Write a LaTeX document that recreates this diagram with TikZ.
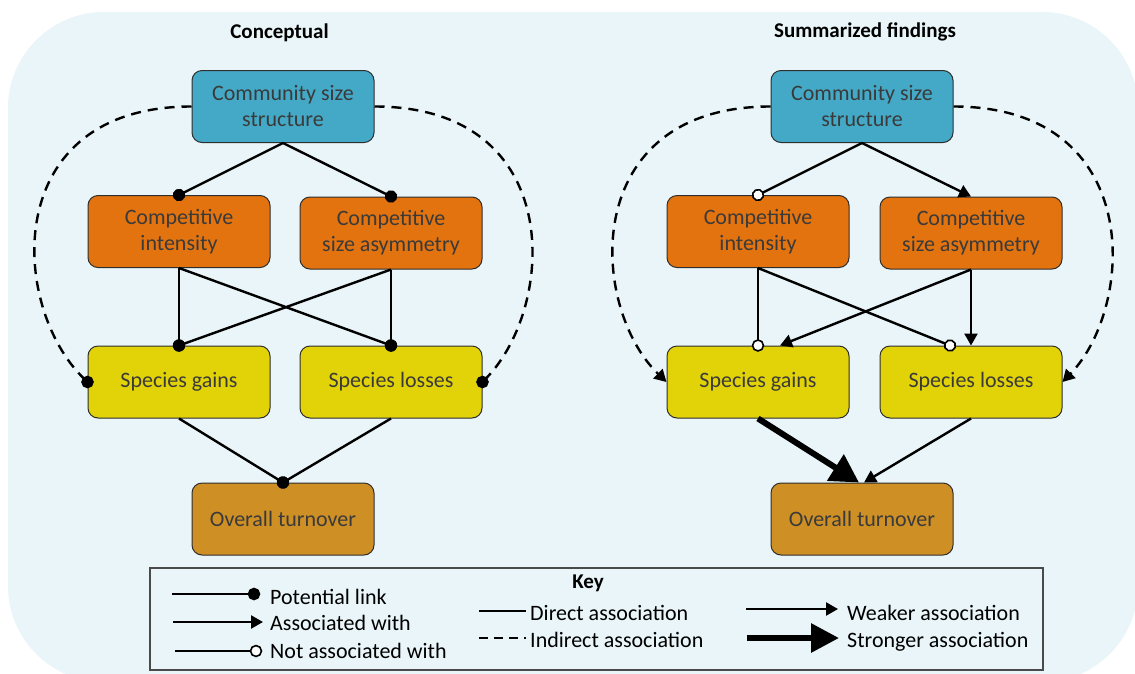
\documentclass[tikz,border=0pt]{standalone}
\usepackage{fontspec}
\setmainfont{Carlito}
\usetikzlibrary{arrows.meta,calc}
\definecolor{bgc}{HTML}{E9F5F8}
\definecolor{cblue}{HTML}{44A9C7}
\definecolor{corange}{HTML}{E3730F}
\definecolor{cyellow}{HTML}{E2D308}
\definecolor{cbrown}{HTML}{CE8F25}
\definecolor{boxline}{HTML}{2E2E2E}
\definecolor{boxtext}{HTML}{3A3A3A}
\definecolor{keyline}{HTML}{4A4A4A}
\begin{document}
\begin{tikzpicture}[x=1pt,y=-1pt,
  box/.style={draw=boxline, line width=1pt, rounded corners=10pt, minimum width=182pt, minimum height=72pt, align=center, text=boxtext, font=\fontsize{22}{26}\selectfont, inner sep=0pt},
  title/.style={font=\bfseries\fontsize{21}{24}\selectfont, anchor=base},
  keytext/.style={font=\fontsize{22}{26}\selectfont, anchor=base west, inner sep=0pt},
  link/.style={line width=2.4pt},
  pdot/.style={-{Circle[length=12.5pt]}, shorten >=-6.25pt},
  odot/.style={-{Circle[open,fill=white,length=12.5pt,line width=1.6pt]}, shorten >=-6.25pt},
  arr/.style={-{Triangle[length=12pt,width=13pt]}},
  strong/.style={line width=6pt, -{Triangle[length=28pt,width=30pt]}},
  indirect/.style={line width=2.4pt, dash pattern=on 10pt off 7pt},
  keybox/.style={draw=keyline, line width=1.2pt, minimum width=893pt, minimum height=102pt, inner sep=0pt}
]
\useasboundingbox (0,0) rectangle (1135,673);
\begin{scope}
  \clip (0,0) rectangle (1135,673);
  \fill[bgc, rounded corners=96pt] (8,12) rectangle (1138,682);
\end{scope}

% titles
\node[title] (t1) at (279.5,38) {Conceptual};
\node[title] (t2) at (865,37) {Summarized findings};

% ---------------- left panel ----------------
\node[box, fill=cblue]   (cs1) at (283,106.5) {Community size\\structure};
\node[box, fill=corange] (ci1) at (179,231.5) {Competitive\\intensity};
\node[box, fill=corange] (ca1) at (391,233)   {Competitive\\size asymmetry};
\node[box, fill=cyellow] (sg1) at (179,382)   {Species gains};
\node[box, fill=cyellow] (sl1) at (391,382)   {Species losses};
\node[box, fill=cbrown]  (ot1) at (283,519)   {Overall turnover};

\draw[link,pdot] (cs1.south) -- (ci1.north);
\draw[link,pdot] (cs1.south) -- (ca1.north);
\draw[link,pdot] (ci1.south) -- (sg1.north);
\draw[link,pdot] (ci1.south) -- (sl1.north);
\draw[link,pdot] (ca1.south) -- (sg1.north);
\draw[link,pdot] (ca1.south) -- (sl1.north);
\draw[link,pdot] (sg1.south) -- (ot1.north);
\draw[link,pdot] (sl1.south) -- (ot1.north);
\draw[indirect,pdot] (cs1.west) .. controls ($(cs1.west)+(-192,0)$) and ($(cs1.west)+(-182,200)$) .. (sg1.west);
\draw[indirect,pdot] (cs1.east) .. controls ($(cs1.east)+(192,0)$) and ($(cs1.east)+(182,200)$) .. (sl1.east);

% ---------------- right panel ----------------
\node[box, fill=cblue]   (cs2) at (862,106.5) {Community size\\structure};
\node[box, fill=corange] (ci2) at (758,231.5) {Competitive\\intensity};
\node[box, fill=corange] (ca2) at (971,233)   {Competitive\\size asymmetry};
\node[box, fill=cyellow] (sg2) at (758,382)   {Species gains};
\node[box, fill=cyellow] (sl2) at (971,382)   {Species losses};
\node[box, fill=cbrown]  (ot2) at (862,519)   {Overall turnover};

\draw[link,odot] (cs2.south) -- (ci2.north);
\draw[link,arr]  (cs2.south) -- (ca2.north);
\draw[link,odot] (ci2.south) -- (sg2.north);
\draw[link,odot] (ci2.south) -- ($(sl2.north)+(-21,0)$);
\draw[link,arr]  (ca2.south) -- ($(sg2.north)+(22,0)$);
\draw[link,arr]  (ca2.south) -- (sl2.north);
\draw[strong]    (sg2.south) -- ($(ot2.north)+(-3,0)$);
\draw[link,arr]  (sl2.south) -- ($(ot2.north)+(2,0)$);
\draw[indirect,arr] (cs2.west) .. controls ($(cs2.west)+(-192,0)$) and ($(cs2.west)+(-182,200)$) .. (sg2.west);
\draw[indirect,arr] (cs2.east) .. controls ($(cs2.east)+(192,0)$) and ($(cs2.east)+(182,200)$) .. (sl2.east);

% ---------------- key ----------------
\node[keybox] (key) at (596.5,619) {};
\node[font=\bfseries\fontsize{21}{24}\selectfont, anchor=base] (keyt) at (588,588) {Key};

\coordinate (k1a) at (172,594); \coordinate (k1b) at (254,594);
\draw[link,pdot] (k1a) -- (k1b);
\node[keytext] (k1t) at (270,604) {Potential link};

\coordinate (k2a) at (173,622); \coordinate (k2b) at (263,622);
\draw[link,arr] (k2a) -- (k2b);
\node[keytext] (k2t) at (270,630) {Associated with};

\coordinate (k3a) at (175,651); \coordinate (k3b) at (256,651);
\draw[link,odot] (k3a) -- (k3b);
\node[keytext] (k3t) at (270,658) {Not associated with};

\coordinate (k4a) at (479,611); \coordinate (k4b) at (526,611);
\draw[link] (k4a) -- (k4b);
\node[keytext] (k4t) at (530,620) {Direct association};

\coordinate (k5a) at (479,638); \coordinate (k5b) at (526,638);
\draw[link, dash pattern=on 9pt off 6pt] (k5a) -- (k5b);
\node[keytext] (k5t) at (530,647) {Indirect association};

\coordinate (k6a) at (746,609); \coordinate (k6b) at (838,609);
\draw[link,arr] (k6a) -- (k6b);
\node[keytext] (k6t) at (847,620) {Weaker association};

\coordinate (k7a) at (747,638); \coordinate (k7b) at (839,638);
\draw[strong, -{Triangle[length=28pt,width=28pt]}] (k7a) -- (k7b);
\node[keytext] (k7t) at (847,647) {Stronger association};
\end{tikzpicture}
\end{document}
